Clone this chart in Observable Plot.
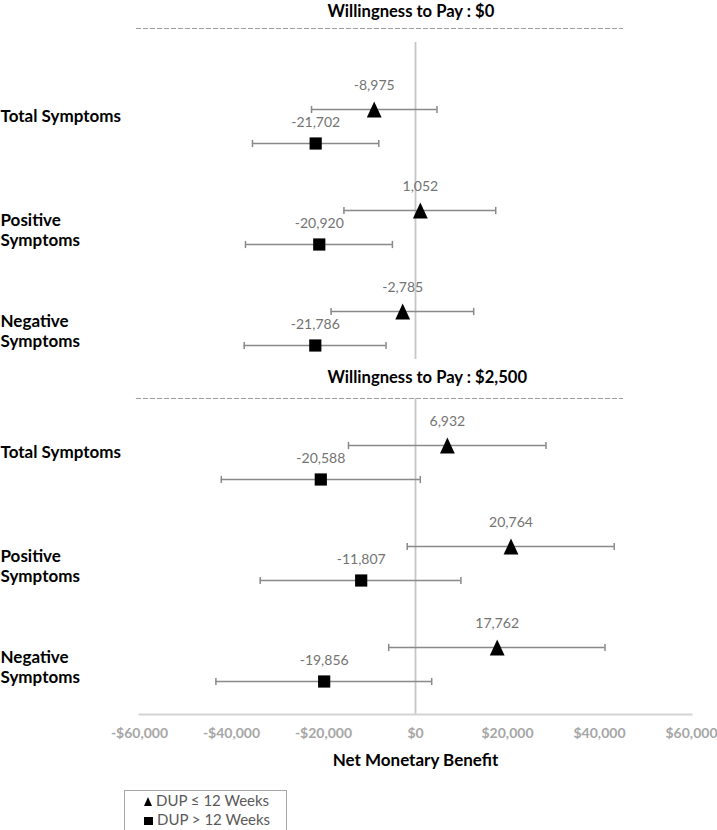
<!DOCTYPE html>
<html>
<head>
<meta charset="utf-8">
<script src="https://cdn.jsdelivr.net/npm/d3@7"></script>
<script src="https://cdn.jsdelivr.net/npm/@observablehq/plot@0.6"></script>
<style>
  body { margin: 0; background: #fff; font-family: Lato, "Open Sans", sans-serif; }
  #wrap { position: relative; width: 717px; height: 830px; overflow: hidden; background: #fff; }
  #p1 { position: absolute; left: 0; top: 0; }
  #p2 { position: absolute; left: 0; top: 362px; }
  #legend { position: absolute; left: 124px; top: 790px; width: 163px; height: 44px; border: 1.5px solid #a6a6a6;
            box-sizing: border-box; padding: 0 0 0 19px; font-size: 15px; color: #595959; line-height: 19px; }
  #legend .item { white-space: nowrap; height: 19px; }
  .tri { display: inline-block; width: 0; height: 0; border-left: 4.5px solid transparent; border-right: 4.5px solid transparent;
         border-bottom: 9px solid #000; margin-right: 4px; vertical-align: 0px; }
  .sq { display: inline-block; width: 8.5px; height: 8.5px; background: #000; margin-right: 4.5px; vertical-align: 0px; }
</style>
</head>
<body>
<div id="wrap">
  <div id="p1"></div>
  <div id="p2"></div>
  <div id="legend"></div>
</div>
<script>
// ---------- data ----------
const categories = ["Total Symptoms", "Positive Symptoms", "Negative Symptoms"];
const rowLabels = ["Total Symptoms", "Positive\nSymptoms", "Negative\nSymptoms"];
const panelTitles = ["Willingness to Pay : $0", "Willingness to Pay : $2,500"];
const seriesNames = ["DUP \u2264 12 Weeks", "DUP > 12 Weeks"];
const xTicks = [-60000, -40000, -20000, 0, 20000, 40000, 60000];
const axisTitle = "Net Monetary Benefit";

// WTP $0
const wtp0ShortMean = [-8975, 1052, -2785];
const wtp0ShortLo   = [-22600, -15560, -18350];
const wtp0ShortHi   = [4670, 17440, 12650];
const wtp0LongMean  = [-21702, -20920, -21786];
const wtp0LongLo    = [-35440, -36960, -37240];
const wtp0LongHi    = [-7980, -5020, -6410];

// WTP $2,500
const wtp2500ShortMean = [6932, 20764, 17762];
const wtp2500ShortLo   = [-14570, -1800, -5830];
const wtp2500ShortHi   = [28370, 43200, 41200];
const wtp2500LongMean  = [-20588, -11807, -19856];
const wtp2500LongLo    = [-42220, -33760, -43390];
const wtp2500LongHi    = [1040, 9870, 3520];

// ---------- build tables ----------
function buildRows(means, los, his, series) {
  return categories.map((c, i) => ({cat: c, series, mean: means[i], lo: los[i], hi: his[i]}));
}
const panels = [
  {
    title: panelTitles[0],
    short: buildRows(wtp0ShortMean, wtp0ShortLo, wtp0ShortHi, seriesNames[0]),
    long: buildRows(wtp0LongMean, wtp0LongLo, wtp0LongHi, seriesNames[1])
  },
  {
    title: panelTitles[1],
    short: buildRows(wtp2500ShortMean, wtp2500ShortLo, wtp2500ShortHi, seriesNames[0]),
    long: buildRows(wtp2500LongMean, wtp2500LongLo, wtp2500LongHi, seriesNames[1])
  }
];
const labelRows = categories.map((c, i) => ({cat: c, label: rowLabels[i]}));

// ---------- symbols ----------
const capSymbol = {draw(ctx, size) { const h = Math.sqrt(size / Math.PI); ctx.moveTo(0, -h); ctx.lineTo(0, h); }};
const triSymbol = {draw(ctx, size) {
  const r = Math.sqrt(size / Math.PI);
  ctx.moveTo(0, -1.07 * r); ctx.lineTo(r, 1.07 * r); ctx.lineTo(-r, 1.07 * r); ctx.closePath();
}};
const sqSymbol = {draw(ctx, size) {
  const r = Math.sqrt(size / Math.PI);
  ctx.moveTo(-r, -r); ctx.lineTo(r, -r); ctx.lineTo(r, r); ctx.lineTo(-r, r); ctx.closePath();
}};

const fmtNum = (v) => v.toLocaleString("en-US");
const fmtMoney = (v) => (v < 0 ? "-" : "") + "$" + Math.abs(v).toLocaleString("en-US");

const barColor = "#898989";
const valueColor = "#737373";

function seriesMarks(rows, off, labelOff, symbol, r) {
  return [
    Plot.ruleY(rows, {y: "cat", x1: "lo", x2: "hi", dy: off, stroke: barColor, strokeWidth: 1.7}),
    Plot.dot(rows, {x: "lo", y: "cat", dy: off, symbol: capSymbol, r: 3.6, stroke: barColor, strokeWidth: 1.5, fill: "none"}),
    Plot.dot(rows, {x: "hi", y: "cat", dy: off, symbol: capSymbol, r: 3.6, stroke: barColor, strokeWidth: 1.5, fill: "none"}),
    Plot.dot(rows, {x: "mean", y: "cat", dy: off, symbol, r, fill: "#000", stroke: "none"}),
    Plot.text(rows, {x: "mean", y: "cat", dy: off + labelOff, text: (d) => fmtNum(d.mean),
      fill: valueColor, fontSize: 14, lineAnchor: "middle"})
  ];
}

function rowLabelMarks() {
  return [
    Plot.text(labelRows.filter((d) => !d.label.includes("\n")), {
      y: "cat", text: "label", frameAnchor: "left", textAnchor: "start", dx: -139, dy: -10,
      fontWeight: "bold", fontSize: 17, fill: "#000", lineAnchor: "middle"
    }),
    Plot.text(labelRows.filter((d) => d.label.includes("\n")), {
      y: "cat", text: "label", frameAnchor: "left", textAnchor: "start", dx: -139, dy: 2,
      fontWeight: "bold", fontSize: 17, fill: "#000", lineAnchor: "middle", lineHeight: 1.2
    })
  ];
}

function panelPlot(p, k) {
  const isLast = k === 1;
  const marks = [
    Plot.frame({anchor: "top", stroke: "#9e9e9e", strokeWidth: 1.2, strokeDasharray: "4,3", insetLeft: -3, insetRight: 69}),
    Plot.ruleX([0], {stroke: "#c6c6c6", strokeWidth: 1.8, insetTop: isLast ? 0 : 14}),
    Plot.text([p.title], {frameAnchor: "top-left", textAnchor: "start", lineAnchor: "middle",
      dx: 188, dy: isLast ? -21 : -17, fontWeight: "bold", fontSize: 16.6, fill: "#000"}),
    ...rowLabelMarks(),
    ...seriesMarks(p.short, -17, -23.5, triSymbol, 7.4),
    ...seriesMarks(p.long, 17, -21, sqSymbol, 6.1)
  ];
  if (isLast) {
    marks.push(
      Plot.frame({anchor: "bottom", stroke: "#d4d4d4", strokeWidth: 2}),
      Plot.axisX({ticks: xTicks, tickFormat: fmtMoney, tickSize: 0, tickPadding: 14, label: null,
        fontWeight: "bold", fontSize: 14, fill: "#a6a6a6"}),
      Plot.text([axisTitle], {frameAnchor: "bottom", lineAnchor: "middle", dy: 46,
        fontWeight: "bold", fontSize: 17, fill: "#000"})
    );
  }
  return Plot.plot({
    width: 717,
    height: isLast ? 426 : 362,
    marginLeft: 139,
    marginRight: 26,
    marginTop: isLast ? 36 : 28,
    marginBottom: isLast ? 74 : 3,
    style: {fontFamily: "Lato, 'Open Sans', sans-serif", background: "transparent", overflow: "visible"},
    x: {domain: [-60000, 60000], axis: null},
    y: {type: "point", padding: 0, domain: categories, range: isLast ? [99.5, 302] : [125.5, 327.5], axis: null},
    marks
  });
}

document.getElementById("p1").appendChild(panelPlot(panels[0], 0));
document.getElementById("p2").appendChild(panelPlot(panels[1], 1));

// legend
const legend = document.getElementById("legend");
seriesNames.forEach((name, i) => {
  const item = document.createElement("div");
  item.className = "item";
  const sym = document.createElement("span");
  sym.className = i === 0 ? "tri" : "sq";
  item.appendChild(sym);
  item.appendChild(document.createTextNode(name));
  legend.appendChild(item);
});
</script>
</body>
</html>
